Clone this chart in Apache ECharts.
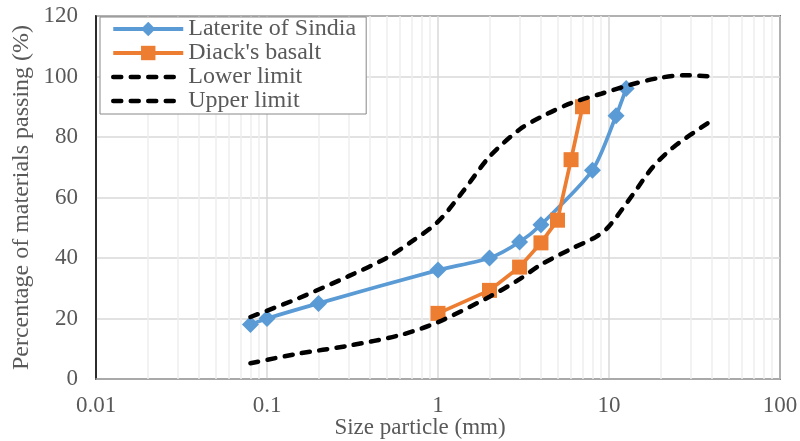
<!DOCTYPE html>
<html>
<head>
<meta charset="utf-8">
<script src="https://cdn.jsdelivr.net/npm/echarts@6/dist/echarts.min.js"></script>
<style>html,body{margin:0;padding:0;background:#fff}#c{width:800px;height:441px}</style>
</head>
<body>
<div id="c"></div>
<script>
// ---- data ----
const seriesNames = ["Laterite of Sindia", "Diack's basalt", "Lower limit", "Upper limit"];
const lateriteX = [0.08, 0.1, 0.2, 1, 2, 3, 4, 8, 11, 12.6];
const lateriteY = [18, 20, 25, 36, 40, 45.3, 51, 69, 87, 96];
const basaltX = [1, 2, 3, 4, 5, 6, 7];
const basaltY = [21.7, 29.3, 37, 45, 52.5, 72.5, 90];
const lowerLimitX = [0.08, 0.15, 0.3, 0.5, 0.7, 1, 1.4, 2, 3, 4, 6, 9, 14, 20, 28, 40];
const lowerLimitY = [20.5, 26.5, 34, 40, 45.4, 52, 62, 73.5, 82.5, 86.6, 91.2, 94.3, 97.6, 99.6, 100.4, 100];
const upperLimitX = [0.08, 0.15, 0.3, 0.6, 1, 2, 3, 4, 6, 8.4, 10, 14, 18, 24, 40];
const upperLimitY = [5.2, 8.3, 11, 14.5, 18.8, 27.2, 33, 37.8, 43, 47, 50.5, 61.5, 70, 76.8, 85.5];
const xTickLabels = ["0.01", "0.1", "1", "10", "100"];
const yTicks = [0, 20, 40, 60, 80, 100, 120];

const pairs = (xs, ys) => xs.map((x, i) => [x, ys[i]]);
const minorGrid = [];
[0.01, 0.1, 1, 10].forEach(d => { for (let k = 2; k <= 9; k++) minorGrid.push(+(d * k).toPrecision(3)); });

const FONT = "'Liberation Serif', 'Times New Roman', serif";
const TXT = '#595959';
const BLUE = '#5b9bd5', ORANGE = '#ed7d31';
const DASH = [8, 9.5];
const dash = { width: 4.5, color: '#000', type: DASH, cap: 'round' };

const chart = echarts.init(document.getElementById('c'), null, { renderer: 'canvas' });
chart.setOption({
  animation: false,
  backgroundColor: '#fff',
  textStyle: { fontFamily: FONT },
  grid: { left: 96, right: 20, top: 16, bottom: 62, containLabel: false, outerBoundsMode: 'none',
    show: true, borderColor: '#000', borderWidth: 1.5, backgroundColor: 'transparent' },
  legend: {
    orient: 'vertical', left: 100, top: 17,
    data: [
      { name: seriesNames[0], itemStyle: { color: BLUE }, lineStyle: { color: BLUE, width: 4 } },
      { name: seriesNames[1], itemStyle: { color: ORANGE }, lineStyle: { color: ORANGE, width: 4 } },
      { name: seriesNames[2], itemStyle: { color: 'rgba(0,0,0,0)', borderWidth: 0 }, lineStyle: { color: '#000', width: 4.5, type: DASH, cap: 'round' } },
      { name: seriesNames[3], itemStyle: { color: 'rgba(0,0,0,0)', borderWidth: 0 }, lineStyle: { color: '#000', width: 4.5, type: DASH, cap: 'round' } }
    ],
    itemWidth: 70, itemHeight: 18, itemGap: 0,
    padding: [0, 10, 1, 11],
    borderColor: '#888', borderWidth: 1, backgroundColor: '#fff',
    textStyle: { fontFamily: FONT, fontSize: 24, color: TXT },
    z: 10
  },
  xAxis: {
    type: 'log', logBase: 10, min: 0.01, max: 100,
    name: 'Size particle (mm)', nameLocation: 'middle', nameGap: 37, nameMoveOverlap: false,
    nameTextStyle: { fontFamily: FONT, fontSize: 23, color: TXT, padding: [0, 36, 0, 0] },
    axisLine: { show: true, lineStyle: { color: '#a6a6a6', width: 1.5 } },
    axisTick: { show: false },
    axisLabel: { fontFamily: FONT, fontSize: 23, color: TXT, margin: 15,
      formatter: v => { const i = Math.round(Math.log10(v)) + 2; return xTickLabels[i] !== undefined ? xTickLabels[i] : ''; } },
    splitLine: { show: true, lineStyle: { color: '#d9d9d9', width: 1.5 } }
  },
  yAxis: {
    type: 'value', min: 0, max: 120, interval: 20,
    name: 'Percentage of materials passing (%)', nameLocation: 'middle', nameGap: 62, nameMoveOverlap: false,
    nameTextStyle: { fontFamily: FONT, fontSize: 24, color: TXT },
    axisLine: { show: true, lineStyle: { color: '#000', width: 1.5 } },
    axisTick: { show: false },
    axisLabel: { fontFamily: FONT, fontSize: 23, color: TXT, margin: 18,
      formatter: v => yTicks.includes(v) ? String(v) : '' },
    splitLine: { show: true, lineStyle: { color: '#d9d9d9', width: 1.5 } }
  },
  series: [
    {
      name: 'minor-grid', type: 'line', data: [], z: 1, silent: true,
      markLine: { silent: true, z: 1, symbol: ['none', 'none'], label: { show: false },
        lineStyle: { color: '#eeeeee', width: 1.5, type: 'solid' },
        data: minorGrid.map(v => ({ xAxis: v })) }
    },
    {
      name: seriesNames[0], type: 'line', data: pairs(lateriteX, lateriteY), smooth: 0.25,
      symbol: 'diamond', symbolSize: 17, z: 4,
      lineStyle: { color: BLUE, width: 3.75 }, itemStyle: { color: BLUE }
    },
    {
      name: seriesNames[1], type: 'line', data: pairs(basaltX, basaltY),
      symbol: 'rect', symbolSize: 15, z: 4,
      lineStyle: { color: ORANGE, width: 3.75 }, itemStyle: { color: ORANGE }
    },
    {
      name: seriesNames[2], type: 'line', data: pairs(lowerLimitX, lowerLimitY), smooth: 0.3,
      showSymbol: false, symbol: 'none', z: 5, lineStyle: dash, itemStyle: { color: '#000' }
    },
    {
      name: seriesNames[3], type: 'line', data: pairs(upperLimitX, upperLimitY), smooth: 0.3,
      showSymbol: false, symbol: 'none', z: 5, lineStyle: dash, itemStyle: { color: '#000' }
    }
  ]
});
</script>
</body>
</html>
